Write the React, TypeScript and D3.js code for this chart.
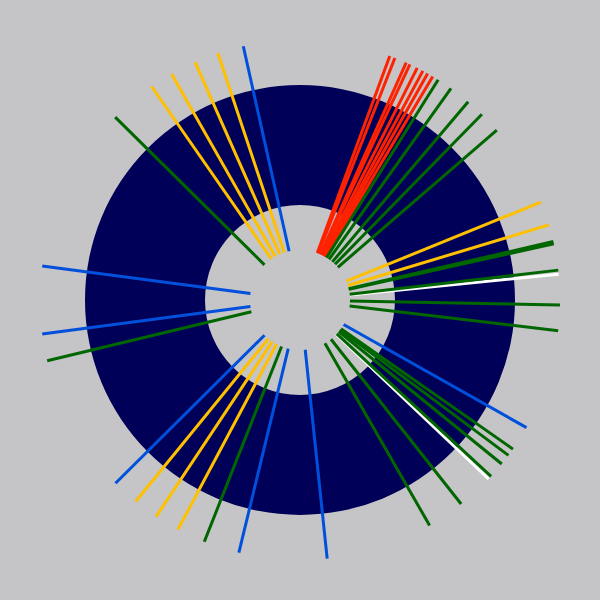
import React, { useEffect, useRef } from "react";
import * as d3 from "d3";

// Ray angles (degrees clockwise from 12 o'clock) and their category
const rayAngles = [
  20.2, 21.4, 24.1, 25.0, 26.8, 28.2, 29.4, 30.7,
  32.1, 35.5, 40.3, 44.4, 49.2,
  67.9, 73.2,
  77.0, 77.5,
  84.3, 83.4,
  91.1, 96.8,
  119.4,
  125.0, 126.7, 129.1,
  133.5, 132.7,
  141.7, 150.1,
  174.0, 193.6, 201.6, 208.0, 213.6, 219.2, 225.2,
  256.5, 262.5, 277.5,
  314.7, 325.2, 330.4, 336.2, 341.6, 347.4,
];
const rayKinds = [
  "red", "red", "red", "red", "red", "red", "red", "red",
  "green", "green", "green", "green", "green",
  "yellow", "yellow",
  "green", "green",
  "white", "green",
  "green", "green",
  "blue",
  "green", "green", "green",
  "white", "green",
  "green", "green",
  "blue", "blue", "green", "yellow", "yellow", "yellow", "blue",
  "green", "blue", "blue",
  "green", "yellow", "yellow", "yellow", "yellow", "blue",
];
const kindNames = ["red", "green", "yellow", "blue", "white"];
const kindColors = ["#ff2200", "#006600", "#ffc000", "#0050dc", "#ffffff"];

const ringRange = [95, 215];
const rayRange = [50, 260];

export default function App() {
  const ref = useRef<SVGSVGElement>(null);
  useEffect(() => {
    document.body.style.margin = "0";
    document.body.style.background = "#c5c4c6";
    const svg = d3.select(ref.current);
    svg.selectAll("*").remove();
    const W = 600, H = 600;
    const g = svg.append("g").attr("transform", `translate(${W / 2},${H / 2})`);
    const angle = d3.scaleLinear().domain([0, 360]).range([0, 2 * Math.PI]);
    const color = d3.scaleOrdinal<string, string>().domain(kindNames).range(kindColors);

    const arc = d3.arc();
    g.append("path")
      .attr("d", arc({ innerRadius: ringRange[0], outerRadius: ringRange[1], startAngle: 0, endAngle: 2 * Math.PI } as any))
      .attr("fill", "#000058");

    const rays = rayAngles.map((a, i) => ({ a, k: rayKinds[i] }));
    g.selectAll("line.ray")
      .data(rays)
      .join("line")
      .attr("class", "ray")
      .attr("x1", (d) => rayRange[0] * Math.sin(angle(d.a)))
      .attr("y1", (d) => -rayRange[0] * Math.cos(angle(d.a)))
      .attr("x2", (d) => rayRange[1] * Math.sin(angle(d.a)))
      .attr("y2", (d) => -rayRange[1] * Math.cos(angle(d.a)))
      .attr("stroke", (d) => color(d.k))
      .attr("stroke-width", 3);
  }, []);
  return (
    <div style={{ position: "fixed", left: 0, top: 0, width: 600, height: 600, background: "#c5c4c6" }}>
      <svg ref={ref} width={600} height={600} style={{ display: "block" }} />
    </div>
  );
}
